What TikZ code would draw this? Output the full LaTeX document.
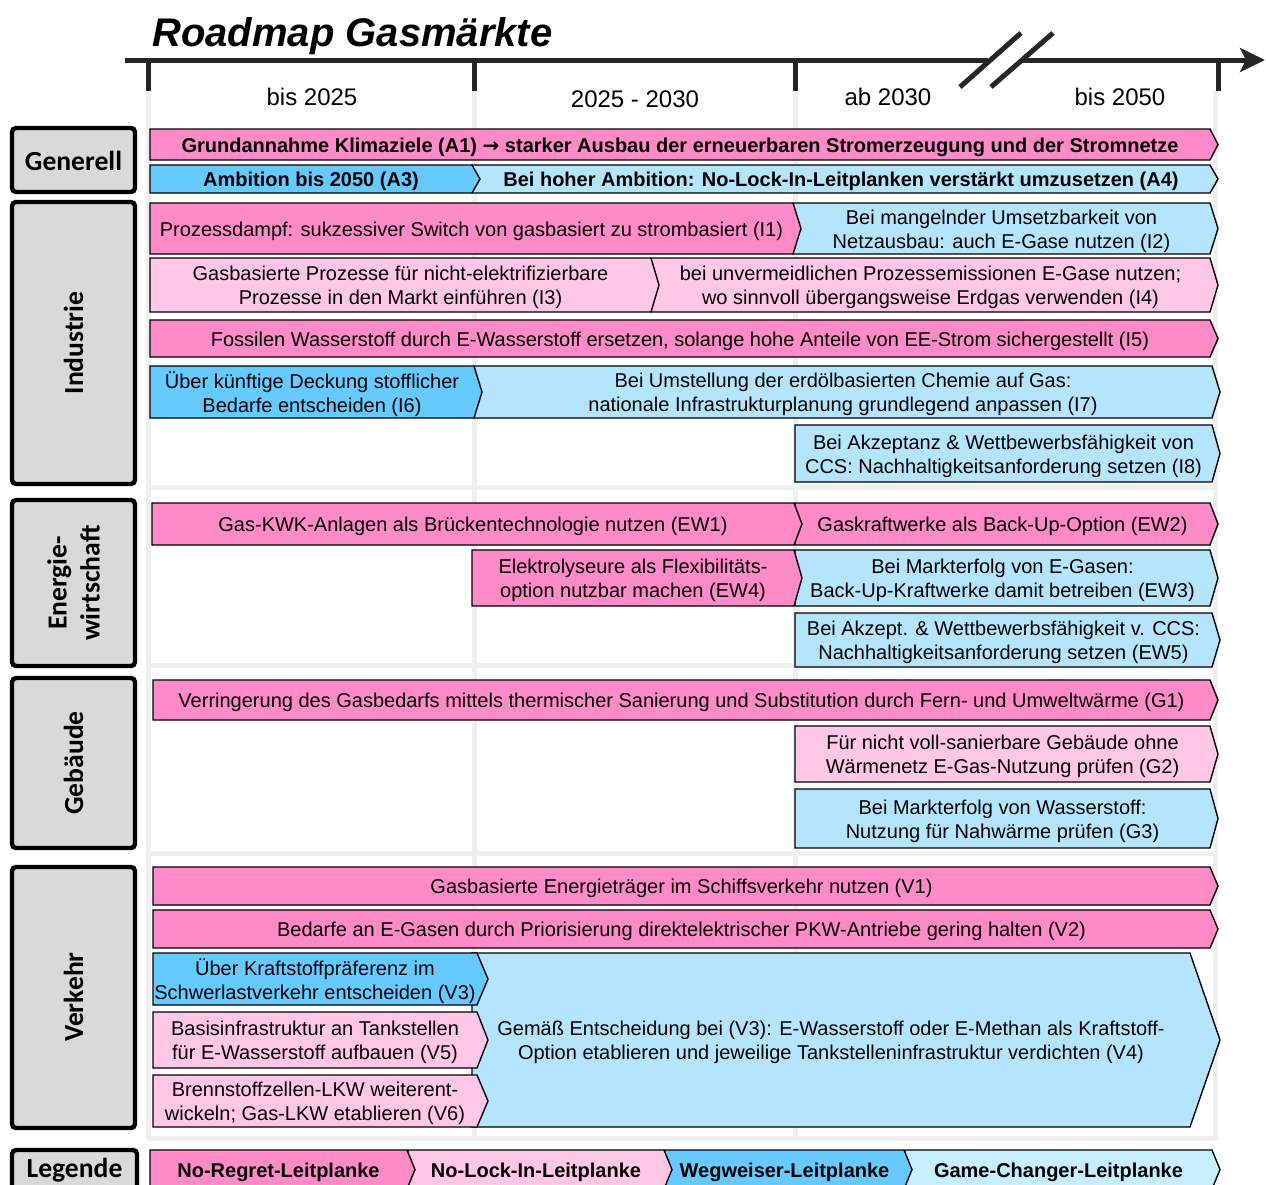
\documentclass[tikz,border=0pt]{standalone}
\usepackage{fontspec}
\setmainfont{Liberation Sans}
\newfontfamily\labelfont{Carlito}
\newfontfamily\arrowfont{DejaVu Sans}
\usetikzlibrary{arrows.meta}

\definecolor{noregret}{HTML}{FF8AC8}
\definecolor{nolock}{HTML}{FFC6E6}
\definecolor{wegweiser}{HTML}{66CAFF}
\definecolor{gamechanger}{HTML}{B5E5FD}
\definecolor{gamelegend}{HTML}{C6EEFF}
\definecolor{labelgray}{HTML}{D9D9D9}
\definecolor{gridgray}{HTML}{EFEFEF}

\tikzset{
  bar/.style={draw=black, line width=0.7pt, line join=miter},
  nr/.style={bar, fill=noregret},
  nl/.style={bar, fill=nolock},
  ww/.style={bar, fill=wegweiser},
  gc/.style={bar, fill=gamechanger},
  gcl/.style={bar, fill=gamelegend},
  bartext/.style={inner sep=0pt, align=center, font=\fontsize{10}{12}\selectfont},
  boldtext/.style={inner sep=0pt, align=center, font=\fontsize{10}{12}\selectfont\bfseries},
  sectorbox/.style={draw=black, fill=labelgray, line width=2.2pt, rounded corners=2pt},
  sectortext/.style={inner sep=0pt, align=center, font=\labelfont\bfseries\fontsize{13.8}{16.5}\selectfont},
  axis/.style={line width=2.5pt, draw=black!85},
  yearlabel/.style={inner sep=0pt, font=\fontsize{12}{14}\selectfont},
  gridline/.style={draw=gridgray, line width=2.5pt},
}

% chevron bar: [depth]{name}{style}{x left}{x tip}{y top}{y bottom}{text}
\newcommand{\chevbar}[8][8]{%
  \path[#3] (#4,#6) -- ({#5-#1},#6) -- (#5,{(#6+#7)/2}) -- ({#5-#1},#7) -- (#4,#7) -- cycle;
  \node[bartext] (#2) at ({(#4+#5-#1)/2},{(#6+#7)/2+2.5}) {#8};}
\newcommand{\chevbold}[8][8]{%
  \path[#3] (#4,#6) -- ({#5-#1},#6) -- (#5,{(#6+#7)/2}) -- ({#5-#1},#7) -- (#4,#7) -- cycle;
  \node[boldtext] (#2) at ({(#4+#5-#1)/2},{(#6+#7)/2+2.5}) {#8};}

\begin{document}
\begin{tikzpicture}[x=0.5pt, y=-0.5pt]
\useasboundingbox (0,0) rectangle (1266,1185);
\clip (0,0) rectangle (1266,1185);

% background grid of the table
\foreach \gx in {148,474,795,1215}
  \draw[gridline] (\gx,90) -- (\gx,1140);
\foreach \gy in {487,665,853,1138}
  \draw[gridline] (148,\gy) -- (1215,\gy);

% title and time axis
\node[anchor=base west, inner sep=0pt, font=\fontsize{20}{24}\selectfont\bfseries\itshape] (title) at (152,46) {Roadmap\ Gasmärkte};
\coordinate (axstart) at (125,60);
\coordinate (axbreakA) at (988,60);
\coordinate (axbreakB) at (1022,60);
\coordinate (axend) at (1265,60);
\draw[axis] (axstart) -- (axbreakA);
\draw[axis, -{Stealth[length=12.5pt, width=12pt, inset=3pt]}] (axbreakB) -- (axend);
\draw[axis] (960,87) -- (1021,33);
\draw[axis] (991,87) -- (1053,33);
\foreach \tx in {148,474,795,1218}
  \draw[axis, line cap=butt] (\tx,59) -- (\tx,91);

\node[yearlabel] (y1) at (312,97) {bis 2025};
\node[yearlabel] (y2) at (635,99) {2025 - 2030};
\node[yearlabel] (y3) at (888,97) {ab 2030};
\node[yearlabel] (y4) at (1120,97) {bis 2050};

% sector labels
\draw[sectorbox] (12,128) rectangle (135,192);
\node[sectortext] (generell) at (73.5,161) {Generell};
\draw[sectorbox] (12,202) rectangle (135,484);
\node[sectortext, rotate=90] (industrie) at (73.5,343) {Industrie};
\draw[sectorbox] (12,500) rectangle (135,666);
\node[sectortext, rotate=90] (energie) at (73.5,583) {Energie-\\wirtschaft};
\draw[sectorbox] (12,678) rectangle (135,848);
\node[sectortext, rotate=90] (gebaeude) at (73.5,763) {Gebäude};
\draw[sectorbox] (12,867) rectangle (135,1128);
\node[sectortext, rotate=90] (verkehr) at (73.5,997) {Verkehr};
\draw[sectorbox] (12,1150) rectangle (137,1210);
\node[sectortext] (legende) at (74.5,1170) {Legende};

% Generell
\chevbold{a1}{nr}{150}{1218}{129}{160}{Grundannahme Klimaziele (A1) {\arrowfont\bfseries →} starker Ausbau der erneuerbaren Stromerzeugung und der Stromnetze}
\chevbold{a4}{gc}{472}{1218}{165}{193}{Bei hoher Ambition: No-Lock-In-Leitplanken verstärkt umzusetzen (A4)}
\chevbold{a3}{ww}{150}{480}{165}{193}{Ambition bis 2050 (A3)}

% Industrie
\chevbar{i2}{gc}{793}{1218}{203}{254}{Bei mangelnder Umsetzbarkeit von\\Netzausbau: auch E-Gase nutzen (I2)}
\chevbar{i1}{nr}{150}{801}{203}{254}{Prozessdampf: sukzessiver Switch von gasbasiert zu strombasiert (I1)}
\chevbar{i4}{nl}{651}{1218}{258}{312}{bei unvermeidlichen Prozessemissionen E-Gase nutzen;\\wo sinnvoll übergangsweise Erdgas verwenden (I4)}
\chevbar{i3}{nl}{150}{659}{258}{312}{Gasbasierte Prozesse für nicht-elektrifizierbare\\Prozesse in den Markt einführen (I3)}
\chevbar{i5}{nr}{150}{1218}{320}{357}{Fossilen Wasserstoff durch E-Wasserstoff ersetzen, solange hohe Anteile von EE-Strom sichergestellt (I5)}
\chevbar{i7}{gc}{474}{1220}{366}{418}{Bei Umstellung der erdölbasierten Chemie auf Gas:\\nationale Infrastrukturplanung grundlegend anpassen (I7)}
\chevbar{i6}{ww}{150}{482}{366}{418}{Über künftige Deckung stofflicher\\Bedarfe entscheiden (I6)}
\chevbar{i8}{gc}{795}{1220}{425}{482}{Bei Akzeptanz \& Wettbewerbsfähigkeit von\\CCS: Nachhaltigkeitsanforderung setzen (I8)}

% Energiewirtschaft
\chevbar{ew2}{nr}{795}{1218}{503}{545}{Gaskraftwerke als Back-Up-Option (EW2)}
\chevbar{ew1}{nr}{152}{802}{503}{545}{Gas-KWK-Anlagen als Brückentechnologie nutzen (EW1)}
\chevbar{ew3}{gc}{795}{1218}{550}{606}{Bei Markterfolg von E-Gasen:\\Back-Up-Kraftwerke damit betreiben (EW3)}
\chevbar{ew4}{nr}{472}{802}{550}{606}{Elektrolyseure als Flexibilitäts-\\option nutzbar machen (EW4)}
\chevbar{ew5}{gc}{795}{1220}{613}{667}{Bei Akzept. \& Wettbewerbsfähigkeit v. CCS:\\Nachhaltigkeitsanforderung setzen (EW5)}

% Gebäude
\chevbar{g1}{nr}{153}{1218}{680}{720}{Verringerung des Gasbedarfs mittels thermischer Sanierung und Substitution durch Fern- und Umweltwärme (G1)}
\chevbar{g2}{nl}{795}{1218}{726}{782}{Für nicht voll-sanierbare Gebäude ohne\\Wärmenetz E-Gas-Nutzung prüfen (G2)}
\chevbar{g3}{gc}{795}{1218}{789}{848}{Bei Markterfolg von Wasserstoff:\\Nutzung für Nahwärme prüfen (G3)}

% Verkehr
\chevbar{v1}{nr}{153}{1218}{867}{905}{Gasbasierte Energieträger im Schiffsverkehr nutzen (V1)}
\chevbar{v2}{nr}{153}{1218}{910}{948}{Bedarfe an E-Gasen durch Priorisierung direktelektrischer PKW-Antriebe gering halten (V2)}
\chevbar[30]{v4}{gc}{472}{1220}{953}{1127}{Gemäß Entscheidung bei (V3): E-Wasserstoff oder E-Methan als Kraftstoff-\\Option etablieren und jeweilige Tankstelleninfrastruktur verdichten (V4)}
\chevbar[11]{v3}{ww}{153}{488}{953}{1005}{Über Kraftstoffpräferenz im\\Schwerlastverkehr entscheiden (V3)}
\chevbar[11]{v5}{nl}{153}{488}{1012}{1068}{Basisinfrastruktur an Tankstellen\\für E-Wasserstoff aufbauen (V5)}
\chevbar[11]{v6}{nl}{153}{488}{1075}{1127}{Brennstoffzellen-LKW weiterent-\\wickeln; Gas-LKW etablieren (V6)}

% legend
\chevbold{lgc}{gcl}{905}{1220}{1150}{1189}{Game-Changer-Leitplanke}
\chevbold{lww}{ww}{665}{912}{1150}{1189}{Wegweiser-Leitplanke}
\chevbold{lnl}{nl}{408}{672}{1150}{1189}{No-Lock-In-Leitplanke}
\chevbold{lnr}{nr}{150}{415}{1150}{1189}{No-Regret-Leitplanke}
\end{tikzpicture}
\end{document}
